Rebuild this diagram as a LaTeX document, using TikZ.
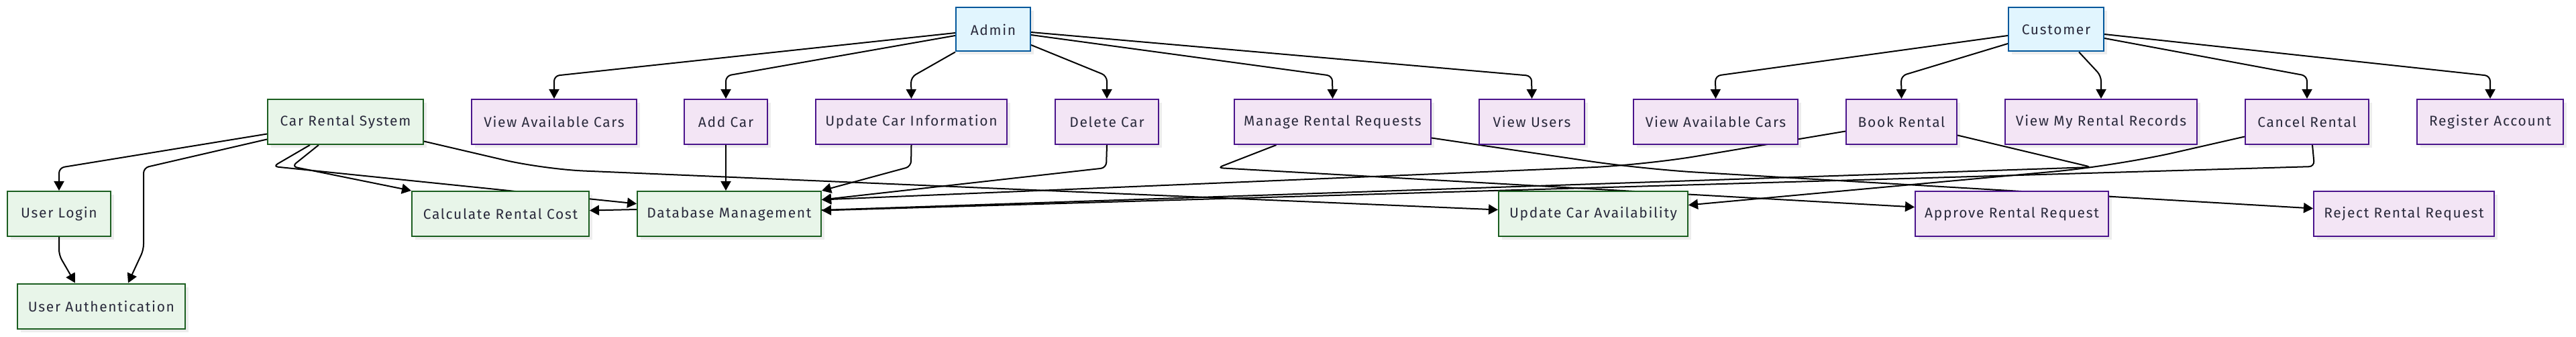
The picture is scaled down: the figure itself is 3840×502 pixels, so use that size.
\documentclass[tikz,border=0pt]{standalone}
\usepackage{fontspec}
\setmainfont{Fira Sans}[LetterSpace=8]
\usepackage{tikz}
\usetikzlibrary{arrows.meta,positioning,calc,shadows,backgrounds}

\definecolor{actorfill}{HTML}{E1F5FE}
\definecolor{actorline}{HTML}{01579B}
\definecolor{casefill}{HTML}{F3E5F5}
\definecolor{caseline}{HTML}{4A148C}
\definecolor{sysfill}{HTML}{E8F5E9}
\definecolor{sysline}{HTML}{1B5E20}
\definecolor{labeltext}{HTML}{2A2A3C}

\tikzset{
  box/.style={draw, line width=2pt, minimum height=67pt, inner sep=0pt,
    font=\fontsize{21}{25}\selectfont, text=labeltext,
    drop shadow={shadow xshift=5pt, shadow yshift=-5pt, fill=black, opacity=0.07}},
  actor/.style={box, fill=actorfill, draw=actorline, minimum height=65pt},
  usecase/.style={box, fill=casefill, draw=caseline},
  sysbox/.style={box, fill=sysfill, draw=sysline},
  link/.style={line width=2pt, rounded corners=8pt, -{Triangle[length=14pt,width=15pt]}}
}

\begin{document}
\begin{tikzpicture}[x=1pt,y=-1pt]
        \useasboundingbox (0,0) rectangle (3840,502);

        % actors
        \node[actor, minimum width=111pt] (admin) at (1480.5,44) {Admin};
        \node[actor, minimum width=142pt] (customer) at (3065,44) {Customer};

        % admin use cases
        \node[usecase, minimum width=246pt] (viewcarsA) at (826,181.5) {View Available Cars};
        \node[usecase, minimum width=124pt] (addcar) at (1082,181.5) {Add Car};
        \node[usecase, minimum width=285pt] (updinfo) at (1358.5,181.5) {Update Car Information};
        \node[usecase, minimum width=154pt] (delcar) at (1650,181.5) {Delete Car};
        \node[usecase, minimum width=293pt] (managereq) at (1986.5,181.5) {Manage Rental Requests};
        \node[usecase, minimum width=157pt] (viewusers) at (2283.5,181.5) {View Users};

        % customer use cases
        \node[usecase, minimum width=245pt] (viewcarsC) at (2557.5,181.5) {View Available Cars};
        \node[usecase, minimum width=165pt] (book) at (2834.5,181.5) {Book Rental};
        \node[usecase, minimum width=286pt] (records) at (3132,181.5) {View My Rental Records};
        \node[usecase, minimum width=184pt] (cancel) at (3439,181.5) {Cancel Rental};
        \node[usecase, minimum width=218pt] (register) at (3712,181.5) {Register Account};

        % system
        \node[sysbox, minimum width=232pt] (crs) at (515,181.5) {Car Rental System};
        \node[sysbox, minimum width=154pt] (login) at (88,318.5) {User Login};
        \node[sysbox, minimum width=250pt] (auth) at (151,456) {User Authentication};
        \node[sysbox, minimum width=264pt] (cost) at (746,318.5) {Calculate Rental Cost};
        \node[sysbox, minimum width=274pt] (db) at (1087,318.5) {Database Management};
        \node[sysbox, minimum width=282pt] (avail) at (2375,318.5) {Update Car Availability};

        % requests
        \node[usecase, minimum width=288pt] (approve) at (2999,318.5) {Approve Rental Request};
        \node[usecase, minimum width=269pt] (reject) at (3583.5,318.5) {Reject Rental Request};

        \begin{scope}[on background layer]
        % Admin
        \draw[link] ($(admin.west)+(0,5)$) -- (826,113) -- (viewcarsA.north);
        \draw[link] ($(admin.west)+(0,9)$) -- (1082,113) -- (addcar.north);
        \draw[link] (admin.south west) -- (1358,115) -- (updinfo.north);
        \draw[link] ($(admin.east)+(0,23)$) -- (1650,113) -- (delcar.north);
        \draw[link] ($(admin.east)+(0,8)$) -- (1986,113) -- (managereq.north);
        \draw[link] ($(admin.east)+(0,4)$) -- (2283,113) -- (viewusers.north);

        % Customer
        \draw[link] ($(customer.west)+(0,9)$) -- (2557,113) -- (viewcarsC.north);
        \draw[link] ($(customer.west)+(0,21)$) -- (2834,113) -- (book.north);
        \draw[link] ($(customer.south)+(34,0)$) -- (3132,113) -- (records.north);
        \draw[link] ($(customer.east)+(0,13)$) -- (3439,113) -- (cancel.north);
        \draw[link] ($(customer.east)+(0,7)$) -- (3712,113) -- (register.north);

        % Car Rental System
        \draw[link] ($(crs.west)+(0,18)$) -- (88,250) -- (login.north);
        \draw[link] ($(crs.west)+(0,26)$) -- (214,250) -- (214,372) -- ($(auth.north)+(40,0)$);
        \draw[link] (login.south) -- (88,380) -- ($(auth.north)+(-39,0)$);
        \draw[link] ($(crs.south)+(-40,0)$) -- (435,248) -- (cost.north west);
        \draw[link] ($(crs.south)+(-53,0)$) -- (407,248) -- ($(db.west)+(0,-15)$);
        \draw[link, rounded corners=60pt] ($(crs.east)+(0,29)$) -- (810,252) -- ($(avail.west)+(0,-6)$);

        % into Database Management
        \draw[link] (addcar.south) -- (addcar.south |- db.north);
        \draw[link] (updinfo.south) -- (1358,248) -- (db.north east);
        \draw[link] (delcar.south) -- (1649,250) -- ($(db.east)+(0,-21)$);

        % Manage Rental Requests
        \draw[link] ($(managereq.south)+(-84,0)$) -- (1815,250) -- ($(approve.west)+(0,-10)$);
        \draw[link, rounded corners=80pt] ($(managereq.east)+(0,24)$) -- (2450,252) -- ($(reject.west)+(0,-8)$);

        % Book Rental
        \draw[link, rounded corners=80pt] ($(book.west)+(0,14)$) -- (2450,246) -- ($(db.east)+(0,-21)$);
        \draw[link] ($(book.east)+(0,20)$) -- (3118,249) -- (1224,313) -- (950,312) -- ($(cost.east)+(0,-5)$);

        % Cancel Rental
        \draw[link] ($(cancel.south)+(8,0)$) -- (3450,248) -- ($(db.east)+(0,-5)$);
        \draw[link, rounded corners=90pt] ($(cancel.west)+(0,22)$) -- (3155,247) -- ($(avail.east)+(0,-13)$);
        \end{scope}
    \end{tikzpicture}
\end{document}
